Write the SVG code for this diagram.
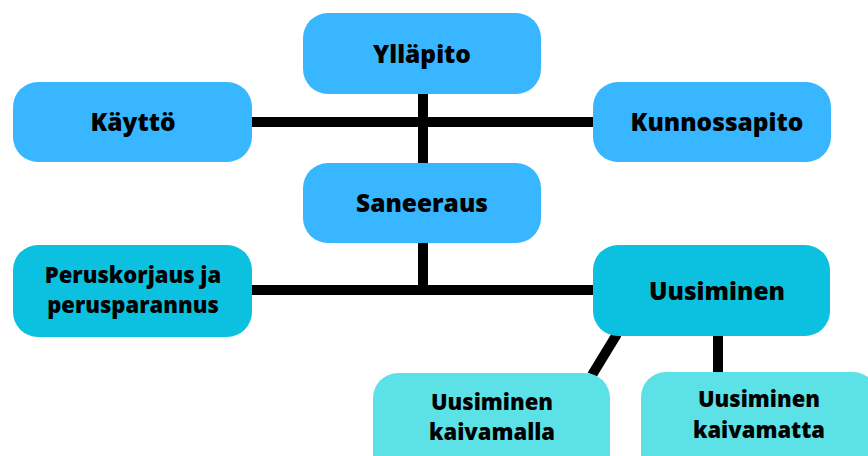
<svg xmlns="http://www.w3.org/2000/svg" width="868" height="456" viewBox="0 0 868 456">
<style>
.n1{fill:#38B6FF}
.n2{fill:#0CC0DF}
.n3{fill:#5CE1E6}
text{font-family:"Open Sans","Noto Sans",sans-serif;font-weight:800;font-size:22px;fill:#000;text-anchor:middle}
text.l{font-size:24.5px}
.c{stroke:#000;stroke-width:10;fill:none}
</style>
<rect width="868" height="456" fill="#fff"/>
<g id="connectors">
<line class="c" x1="252" y1="122" x2="593" y2="122"/>
<line class="c" x1="423" y1="94" x2="423" y2="163"/>
<line class="c" x1="423" y1="243" x2="423" y2="290"/>
<line class="c" x1="252" y1="290" x2="593" y2="290"/>
<line class="c" x1="617" y1="334" x2="592" y2="375"/>
<line class="c" x1="718" y1="334" x2="718" y2="374"/>
</g>
<g id="yllapito"><rect class="n1" x="303" y="13" width="238" height="81" rx="25"/><text class="l" x="422" y="63">Ylläpito</text></g>
<g id="kaytto"><rect class="n1" x="13" y="82" width="239" height="80" rx="25"/><text class="l" x="133" y="131">Käyttö</text></g>
<g id="kunnossapito"><rect class="n1" x="593" y="82" width="238" height="80" rx="25"/><text class="l" x="717" y="131">Kunnossapito</text></g>
<g id="saneeraus"><rect class="n1" x="303" y="163" width="238" height="80" rx="25"/><text class="l" x="422" y="212">Saneeraus</text></g>
<g id="peruskorjaus"><rect class="n2" x="13" y="245" width="239" height="92" rx="25"/><text x="133" y="283">Peruskorjaus ja</text><text x="133" y="313">perusparannus</text></g>
<g id="uusiminen"><rect class="n2" x="593" y="245" width="237" height="91" rx="25"/><text class="l" x="717" y="300">Uusiminen</text></g>
<g id="kaivamalla"><rect class="n3" x="373" y="373" width="237" height="110" rx="25"/><text x="492" y="410">Uusiminen</text><text x="492" y="440">kaivamalla</text></g>
<g id="kaivamatta"><rect class="n3" x="641" y="372" width="237" height="110" rx="25"/><text x="759" y="407">Uusiminen</text><text x="759" y="438">kaivamatta</text></g>
</svg>
